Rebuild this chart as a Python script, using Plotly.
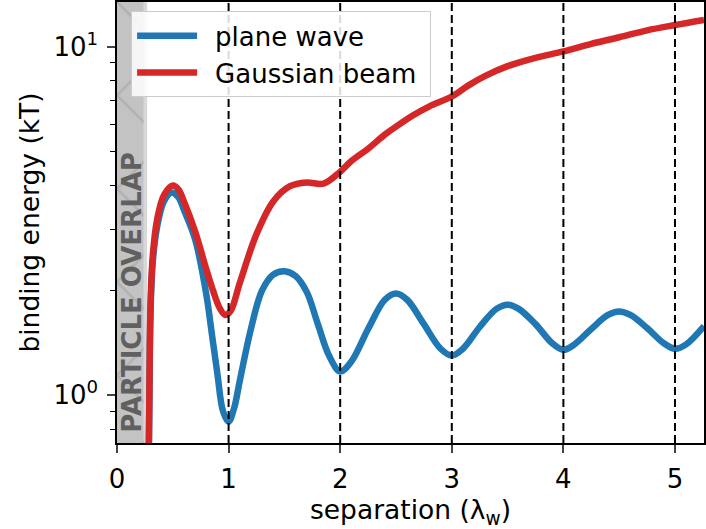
import plotly.graph_objects as go

# Binding energy vs. separation (in units of the wavelength in water)
plane_x = [0.28, 0.29, 0.30, 0.32, 0.36, 0.42, 0.49, 0.55, 0.60, 0.70, 0.80, 0.85, 0.90,
           0.95, 1.00, 1.05, 1.10, 1.20, 1.30, 1.40, 1.50, 1.60, 1.70, 1.80, 1.90, 2.00,
           2.10, 2.25, 2.40, 2.50, 2.60, 2.75, 2.90, 3.00, 3.10, 3.25, 3.40, 3.50, 3.60,
           3.75, 3.90, 4.00, 4.10, 4.25, 4.40, 4.50, 4.60, 4.75, 4.90, 5.00, 5.10, 5.26]
plane_y = [0.45, 0.95, 1.70, 2.40, 3.05, 3.60, 3.82, 3.70, 3.40, 2.80, 1.95, 1.50, 1.15,
           0.90, 0.84, 0.92, 1.10, 1.55, 2.00, 2.22, 2.27, 2.20, 1.98, 1.60, 1.30, 1.17,
           1.25, 1.55, 1.88, 1.96, 1.88, 1.60, 1.36, 1.30, 1.36, 1.57, 1.77, 1.82, 1.77,
           1.60, 1.41, 1.35, 1.40, 1.55, 1.70, 1.74, 1.70, 1.56, 1.41, 1.36, 1.40, 1.58]

gauss_x = [0.28, 0.29, 0.30, 0.32, 0.36, 0.42, 0.50, 0.55, 0.60, 0.70, 0.80, 0.86, 0.92,
           0.97, 1.02, 1.10, 1.25, 1.40, 1.55, 1.70, 1.85, 2.00, 2.10, 2.25, 2.40, 2.50,
           2.65, 2.80, 3.00, 3.15, 3.30, 3.50, 3.75, 4.00, 4.25, 4.50, 4.75, 5.00, 5.26]
gauss_y = [0.50, 1.00, 1.80, 2.50, 3.20, 3.75, 4.00, 3.90, 3.60, 2.95, 2.30, 2.00, 1.78,
           1.70, 1.75, 2.10, 2.90, 3.60, 3.98, 4.08, 4.05, 4.38, 4.70, 5.10, 5.60, 5.90,
           6.35, 6.75, 7.20, 7.75, 8.25, 8.80, 9.30, 9.70, 10.20, 10.65, 11.15, 11.55, 11.95]

overlap_limit = 0.27          # particles overlap below this separation
guide_x = [1, 2, 3, 4, 5]     # dashed guides at integer wavelengths
y_tick_vals = [1, 10]
y_tick_text = ["10<sup>0</sup>", "10<sup>1</sup>"]
x_tick_vals = [0, 1, 2, 3, 4, 5]

FONT = "DejaVu Sans"
BLUE = "#1f77b4"
RED = "#d62728"
GAP = "\u2002"   # space between legend swatch and label
PAD = "\u00a0"   # a little room before the legend border

fig = go.Figure()

# hatched overlap region
fig.add_trace(go.Scatter(
    x=[0, overlap_limit - 0.03, overlap_limit - 0.03, 0, 0],
    y=[0.3, 0.3, 30, 30, 0.3],
    fill="toself", mode="none", fillcolor="#c3c3c3",
    fillpattern=dict(shape="x", fgcolor="#a2a2a2", bgcolor="#c3c3c3", size=66, solidity=0.08),
    showlegend=False, hoverinfo="skip",
))
fig.add_shape(type="rect", xref="x", yref="paper", x0=overlap_limit - 0.03, x1=overlap_limit,
              y0=0, y1=1, fillcolor="#d8d8d8", line_width=0, layer="below")

fig.add_trace(go.Scatter(x=plane_x, y=plane_y, mode="lines", name=GAP + "plane wave" + PAD,
                         line=dict(color=BLUE, width=6.5, shape="spline", smoothing=1)))
fig.add_trace(go.Scatter(x=gauss_x, y=gauss_y, mode="lines", name=GAP + "Gaussian beam" + PAD,
                         line=dict(color=RED, width=6.5, shape="spline", smoothing=1)))

for gx in guide_x:
    fig.add_shape(type="line", xref="x", yref="paper", x0=gx, x1=gx, y0=0, y1=1,
                  line=dict(color="black", width=2, dash="8px,4px"), layer="above")

fig.add_annotation(text="<b>PARTICLE OVERLAP</b>", x=0.135, xref="x", y=0.341, yref="paper",
                   textangle=-90, showarrow=False,
                   font=dict(family=FONT, size=26, color="#606060"))

fig.update_layout(
    width=706, height=529,
    margin=dict(l=117, r=0, t=0, b=86),
    plot_bgcolor="white", paper_bgcolor="white",
    font=dict(family=FONT, size=26, color="black"),
    legend=dict(x=0.024, y=0.979, xanchor="left", yanchor="top",
                bgcolor="rgba(255,255,255,0.85)", bordercolor="#cccccc", borderwidth=1,
                font=dict(family=FONT, size=26), itemwidth=60, tracegroupgap=0),
)
fig.update_xaxes(
    range=[0, 5.26], tickvals=x_tick_vals, ticks="outside", ticklen=8, tickwidth=1.5,
    ticklabelstandoff=4,
    showline=True, linecolor="black", linewidth=1.5, mirror=True, showgrid=False,
    zeroline=False,
    title=dict(text="separation (λ<sub>w</sub>)", standoff=8, font=dict(family=FONT, size=26.5)),
    tickfont=dict(family=FONT, size=26),
)
fig.update_yaxes(
    type="log", range=[-0.137, 1.1286], tickvals=y_tick_vals, ticktext=y_tick_text,
    ticks="outside", ticklen=8, tickwidth=1.5, ticklabelstandoff=4,
    minor=dict(ticks="outside", ticklen=5, tickwidth=1.2, tickcolor="black",
               tickvals=[0.8, 0.9, 2, 3, 4, 5, 6, 7, 8, 9], showgrid=False),
    showline=True, linecolor="black", linewidth=1.5, mirror=True, showgrid=False,
    zeroline=False,
    title=dict(text="binding energy (kT)", standoff=6, font=dict(family=FONT, size=26.5)),
    tickfont=dict(family=FONT, size=26),
)

fig.write_html("out.html")
